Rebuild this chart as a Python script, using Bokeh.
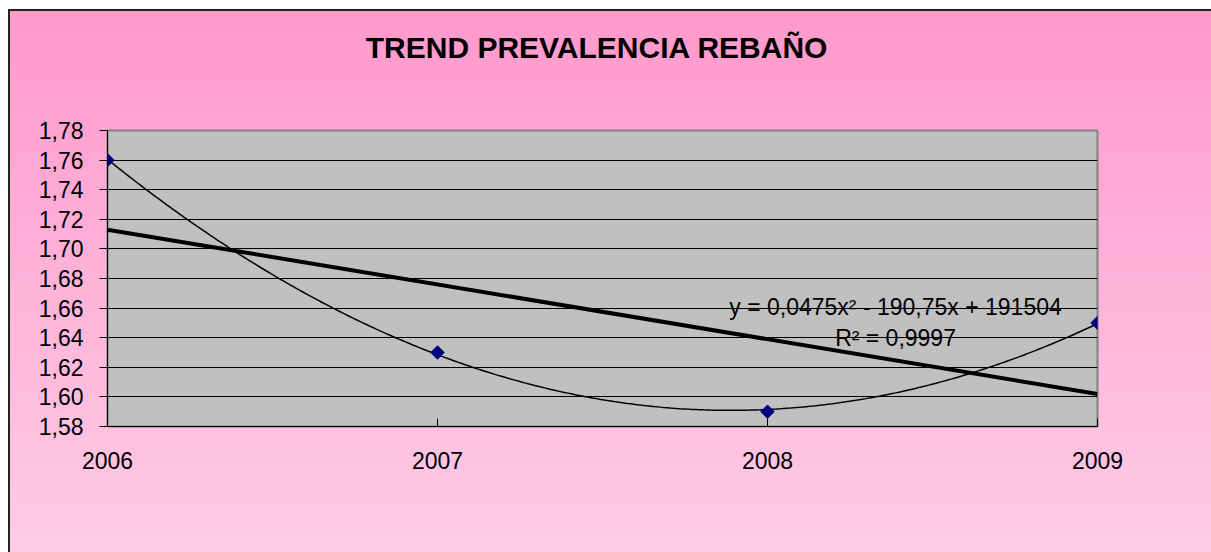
import numpy as np
from bokeh.plotting import figure
from bokeh.layouts import column
from bokeh.models import FixedTicker, CustomJSTickFormatter, Label, Range1d
from bokeh.embed import file_html
from bokeh.resources import INLINE

# ---- data ----
years = [2006, 2007, 2008, 2009]
values = [1.76, 1.63, 1.59, 1.65]
x_ticks = [2006, 2007, 2008, 2009]
y_ticks = [1.58, 1.60, 1.62, 1.64, 1.66, 1.68, 1.70, 1.72, 1.74, 1.76, 1.78]
title_text = "TREND PREVALENCIA REBAÑO"
eq_text = "y = 0,0475x² - 190,75x + 191504"
r2_text = "R² = 0,9997"

FONT = "Liberation Sans"
W = 1201
TITLE_H = 80
MAIN_H = 461

# trendlines fitted from the data
xa = np.array(years, dtype=float) - years[0]
ya = np.array(values, dtype=float)
quad = np.polyfit(xa, ya, 2)
lin = np.polyfit(xa, ya, 1)
xs = np.linspace(xa.min(), xa.max(), 300)
curve_x = xs + years[0]
curve_y = np.polyval(quad, xs)
lin_x = [years[0], years[-1]]
lin_y = list(np.polyval(lin, [xa.min(), xa.max()]))

# ---- title strip ----
t = figure(width=W, height=TITLE_H, output_backend="svg", toolbar_location=None,
           x_range=Range1d(0, W), y_range=Range1d(0, TITLE_H),
           x_axis_type=None, y_axis_type=None, min_border=0)
t.border_fill_alpha = 0
t.background_fill_alpha = 0
t.outline_line_color = None
t.xgrid.grid_line_color = None
t.ygrid.grid_line_color = None
t.add_layout(Label(x=594, y=44, text=title_text, text_align="center",
                   text_baseline="alphabetic", text_font=FONT, text_font_size="30px",
                   text_font_style="bold", text_color="black"))

# ---- main chart ----
p = figure(width=W, height=MAIN_H, output_backend="svg", toolbar_location=None,
           x_range=Range1d(2006, 2009), y_range=Range1d(1.58, 1.78),
           min_border_left=97, min_border_right=114, min_border_top=39,
           min_border_bottom=126)
p.border_fill_alpha = 0
p.background_fill_color = "#C0C0C0"
p.outline_line_color = "#808080"
p.outline_line_width = 2

# grid
p.xgrid.grid_line_color = None
p.ygrid.ticker = FixedTicker(ticks=y_ticks)
p.ygrid.grid_line_color = "black"
p.ygrid.grid_line_width = 1

# x axis
p.xaxis.ticker = FixedTicker(ticks=x_ticks)
p.xaxis.major_tick_in = 8
p.xaxis.major_tick_out = 0
p.xaxis.minor_tick_line_color = None
p.xaxis.axis_line_color = "black"
p.xaxis.major_label_standoff = 25
p.xaxis.major_label_text_font = FONT
p.xaxis.major_label_text_font_size = "23px"
p.xaxis.major_label_text_color = "black"

# y axis
p.yaxis.ticker = FixedTicker(ticks=y_ticks)
p.yaxis.formatter = CustomJSTickFormatter(code="return tick.toFixed(2).replace('.', ',');")
p.yaxis.major_tick_in = 0
p.yaxis.major_tick_out = 8
p.yaxis.minor_tick_line_color = None
p.yaxis.axis_line_color = "black"
p.yaxis.major_label_standoff = 16
p.yaxis.major_label_text_font = FONT
p.yaxis.major_label_text_font_size = "23px"
p.yaxis.major_label_text_color = "black"

# lines
p.line(lin_x, lin_y, line_color="black", line_width=4)
p.line(curve_x, curve_y, line_color="black", line_width=1.5)
p.scatter(years, values, marker="square", angle=np.pi / 4, size=9.5,
          fill_color="#000080", line_color="#000080")

# equation labels
p.add_layout(Label(x=2008.388, y=1.661, text=eq_text, text_align="center",
                   text_baseline="middle", text_font=FONT, text_font_size="23px",
                   text_color="black"))
p.add_layout(Label(x=2008.388, y=1.6395, text=r2_text, text_align="center",
                   text_baseline="middle", text_font=FONT, text_font_size="23px",
                   text_color="black"))

layout = column(t, p, spacing=0)
layout.styles = {
    "margin-left": "8px",
    "margin-top": "9px",
    "background": "linear-gradient(to bottom, #FF99CC 0%, #FFCCE6 100%)",
    "border-top": "2px solid #222222",
    "border-left": "2px solid #222222",
}

open("out.html", "w").write(file_html(layout, INLINE))
